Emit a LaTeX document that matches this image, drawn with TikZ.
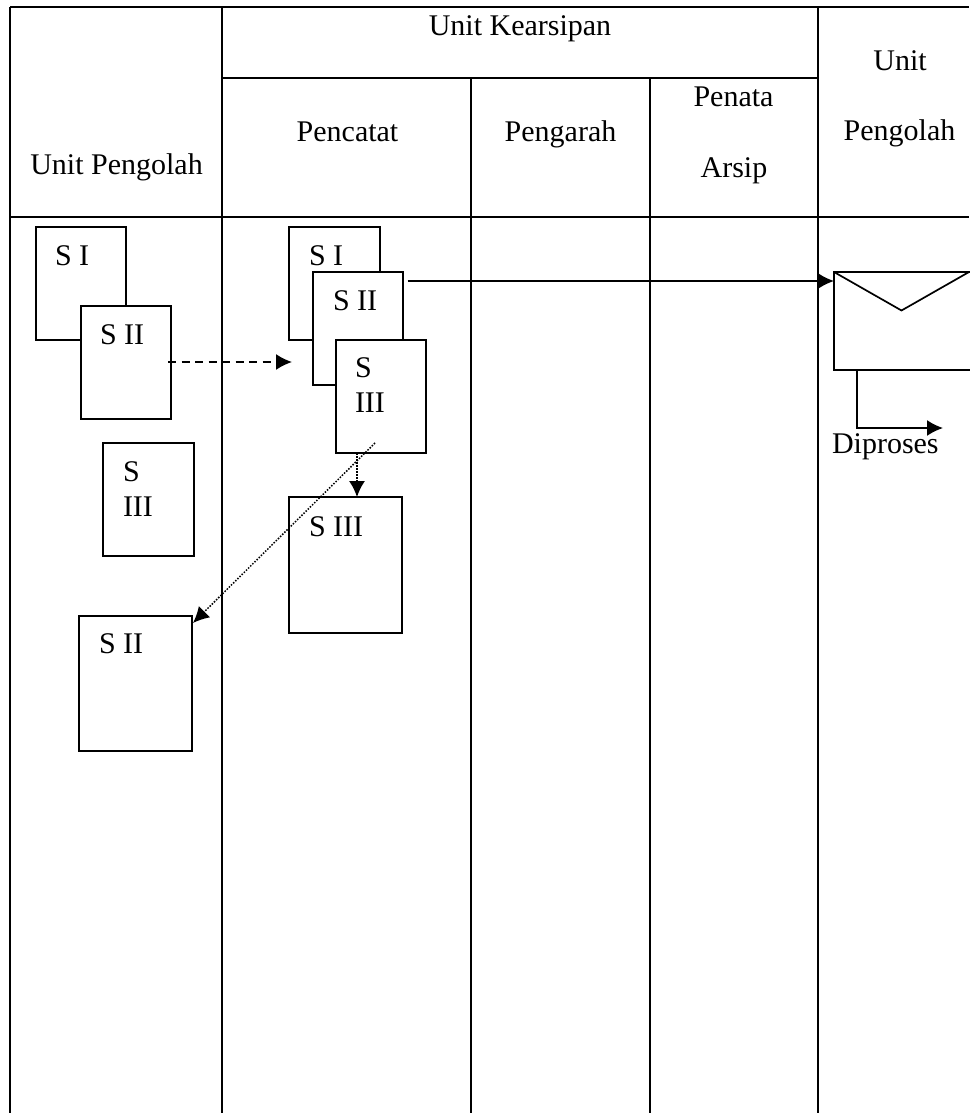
\documentclass[tikz,border=0pt]{standalone}
\usepackage{fontspec}
\setmainfont{Liberation Serif}
\usetikzlibrary{arrows.meta}
\tikzset{
 x=1pt,y=-1pt,
 rule/.style={line width=2pt,black},
 docbox/.style={draw=black,fill=white,line width=1.7pt,anchor=north west,inner sep=0pt,outer sep=0pt},
 txt/.style={inner sep=0pt,outer sep=0pt,anchor=base west,text=black,font=\fontsize{30}{36}\selectfont},
 ctr/.style={txt,anchor=base},
 arr/.style={line width=1.7pt,-{Latex[length=16pt,width=16pt]}},
 dashedarr/.style={arr,dash pattern=on 8pt off 5.5pt},
 dottedarr/.style={arr,line width=1.5pt,dash pattern=on 1.5pt off 1.5pt}
}
\newcommand{\docb}[5]{\node[docbox,minimum width=#4-#2,minimum height=#5-#3] (#1) at (#2,#3) {};}
\begin{document}
\begin{tikzpicture}
\useasboundingbox (0,0) rectangle (969,1113);
% grid
\coordinate (tl) at (10,7); \coordinate (tr) at (969,7);
\coordinate (ml) at (222,78); \coordinate (mr) at (818,78);
\coordinate (hl) at (10,217); \coordinate (hr) at (969,217);
\draw[rule] (tl) -- (tr);
\draw[rule] (ml) -- (mr);
\draw[rule] (hl) -- (hr);
\foreach \n/\x/\yt in {a/10/7,b/222/7,c/471/78,d/650/78,e/818/7}{
 \coordinate (\n t) at (\x,\yt); \coordinate (\n b) at (\x,1113);
 \draw[rule] (\n t) -- (\n b);
}
% headers
\node[ctr] (h1) at (520,36) {Unit Kearsipan};
\node[ctr] (h2) at (900,71) {Unit};
\node[ctr] (h3) at (899.5,140) {Pengolah};
\node[ctr] (h4) at (116.5,174) {Unit Pengolah};
\node[ctr] (h5) at (347.5,142) {Pencatat};
\node[ctr] (h6) at (560.5,142) {Pengarah};
\node[ctr] (h7) at (733.5,107) {Penata};
\node[ctr] (h8) at (734,177) {Arsip};
% left column
\docb{a1}{36}{227}{126}{340}
\docb{a2}{81}{306}{171}{419}
\docb{a3}{103}{443}{194}{556}
\docb{a4}{79}{616}{192}{751}
\node[txt] (ta1) at (55,265) {S I};
\node[txt] (ta2) at (100,344) {S II};
\node[txt] (ta3) at (123,481) {S};
\node[txt] (ta3b) at (123,516) {III};
\node[txt] (ta4) at (99,653) {S II};
% second column
\docb{b1}{289}{227}{380}{340}
\docb{b2}{313}{272}{403}{385}
\docb{b3}{336}{340}{426}{453}
\docb{b4}{289}{497}{402}{633}
\node[txt] (tb1) at (309,265) {S I};
\node[txt] (tb2) at (333,310) {S II};
\node[txt] (tb3) at (355,377) {S};
\node[txt] (tb3b) at (355,412) {III};
\node[txt] (tb4) at (309,536) {S III};
% envelope
\docb{env}{834}{272}{975}{370}
\coordinate (envl) at (834,272);
\coordinate (envm) at (901.5,310.5);
\coordinate (envr) at (969,272);
\draw[line width=1.7pt] (envl) -- (envm) -- (envr);
\node[txt] (tproc) at (832,453) {Diproses};
% connectors
\coordinate (s1) at (168,362); \coordinate (e1) at (292,362);
\draw[dashedarr] (s1) -- (e1);
\coordinate (s2) at (357,453) ; \coordinate (e2) at (357,497);
\draw[dottedarr] (s2) -- (e2);
\coordinate (s3) at (375,443); \coordinate (e3) at (193,623);
\draw[dottedarr] (s3) -- (e3);
\coordinate (s4) at (407.5,281); \coordinate (e4) at (834,281);
\draw[arr] (s4) -- (e4);
\coordinate (s5) at (857,370); \coordinate (m5) at (857,428); \coordinate (e5) at (943,428);
\draw[arr] (s5) -- (m5) -- (e5);
\end{tikzpicture}
\end{document}
